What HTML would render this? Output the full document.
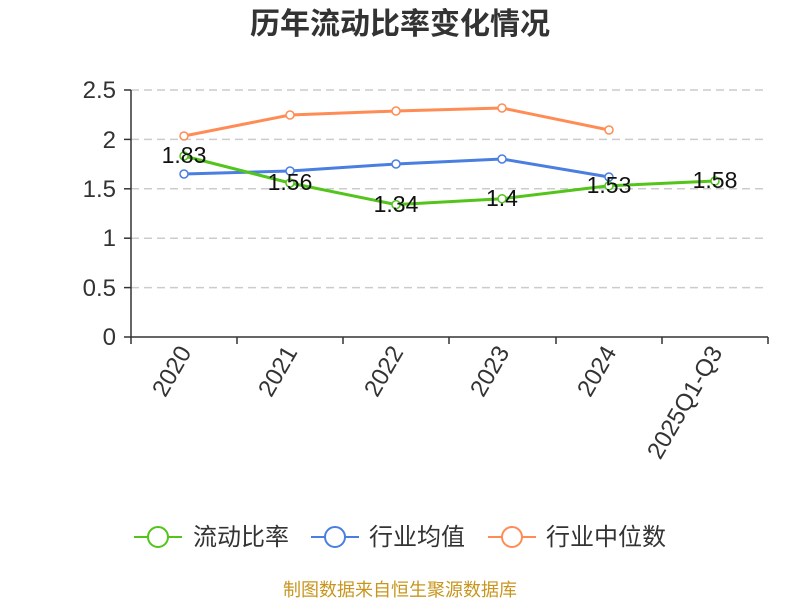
<!DOCTYPE html>
<html><head><meta charset="utf-8"><style>
body{margin:0;background:#fff;width:800px;height:600px;overflow:hidden}
text{font-family:"Liberation Sans","Noto Sans CJK SC",sans-serif}
</style></head><body>
<svg width="800" height="600" xmlns="http://www.w3.org/2000/svg">
<text x="400" y="34" text-anchor="middle" font-size="30" font-weight="bold" fill="#333">历年流动比率变化情况</text>
<g stroke="#ccc" stroke-dasharray="8,5" stroke-width="1.5">
<line x1="131" x2="768" y1="90" y2="90"/><line x1="131" x2="768" y1="139.4" y2="139.4"/>
<line x1="131" x2="768" y1="188.8" y2="188.8"/><line x1="131" x2="768" y1="238.2" y2="238.2"/>
<line x1="131" x2="768" y1="287.6" y2="287.6"/></g>
<g stroke="#333" stroke-width="1.5">
<line x1="131" y1="90" x2="131" y2="337"/><line x1="131" y1="337" x2="768" y2="337"/>
<line x1="124" x2="131" y1="90" y2="90"/><line x1="124" x2="131" y1="139.4" y2="139.4"/><line x1="124" x2="131" y1="188.8" y2="188.8"/><line x1="124" x2="131" y1="238.2" y2="238.2"/><line x1="124" x2="131" y1="287.6" y2="287.6"/><line x1="124" x2="131" y1="337" y2="337"/>
<line x1="131" x2="131" y1="337" y2="344"/><line x1="237" x2="237" y1="337" y2="344"/><line x1="343" x2="343" y1="337" y2="344"/><line x1="449" x2="449" y1="337" y2="344"/><line x1="556" x2="556" y1="337" y2="344"/><line x1="662" x2="662" y1="337" y2="344"/><line x1="768" x2="768" y1="337" y2="344"/>
</g>
<g font-size="24" fill="#333" text-anchor="end">
<text x="116" y="98">2.5</text><text x="116" y="148">2</text><text x="116" y="197">1.5</text><text x="116" y="246">1</text><text x="116" y="296">0.5</text><text x="116" y="345">0</text></g>
<g font-size="24" fill="#333" text-anchor="end">
<text transform="translate(192,352) rotate(-60)">2020</text>
<text transform="translate(298,352) rotate(-60)">2021</text>
<text transform="translate(404,352) rotate(-60)">2022</text>
<text transform="translate(510,352) rotate(-60)">2023</text>
<text transform="translate(617,352) rotate(-60)">2024</text>
<text transform="translate(723,352) rotate(-60)">2025Q1-Q3</text></g>
<g fill="#fff" stroke-width="3">
<polyline fill="none" stroke="#ff8c55" points="184,136 290,115 396,111 502,108 609,130"/>
<g stroke="#ff8c55" stroke-width="1.5"><circle cx="184" cy="136" r="4"/><circle cx="290" cy="115" r="4"/><circle cx="396" cy="111" r="4"/><circle cx="502" cy="108" r="4"/><circle cx="609" cy="130" r="4"/></g>
<polyline fill="none" stroke="#4a7ee0" points="184,174 290,171 396,164 502,159 609,177"/>
<g stroke="#4a7ee0" stroke-width="1.5"><circle cx="184" cy="174" r="4"/><circle cx="290" cy="171" r="4"/><circle cx="396" cy="164" r="4"/><circle cx="502" cy="159" r="4"/><circle cx="609" cy="177" r="4"/></g>
<polyline fill="none" stroke="#52c41a" points="184,156 290,183 396,204.6 502,198.7 609,185.8 715,181"/>
<g stroke="#52c41a" stroke-width="1.5"><circle cx="184" cy="156" r="4"/><circle cx="290" cy="183" r="4"/><circle cx="396" cy="204.6" r="4"/><circle cx="502" cy="198.7" r="4"/><circle cx="609" cy="185.8" r="4"/><circle cx="715" cy="181" r="4"/></g>
</g>
<g font-size="23" fill="#111" text-anchor="middle">
<text x="184" y="163">1.83</text><text x="290" y="190">1.56</text><text x="396" y="212">1.34</text><text x="502" y="206">1.4</text><text x="609" y="193">1.53</text><text x="715" y="188">1.58</text></g>
<g stroke-width="2" fill="#fff">
<line x1="134" x2="182" y1="537" y2="537" stroke="#52c41a"/><circle cx="158" cy="537" r="10" stroke="#52c41a"/>
<line x1="311" x2="359" y1="537" y2="537" stroke="#4a7ee0"/><circle cx="335" cy="537" r="10" stroke="#4a7ee0"/>
<line x1="488" x2="536" y1="537" y2="537" stroke="#ff8c55"/><circle cx="512" cy="537" r="10" stroke="#ff8c55"/></g>
<g font-size="24" fill="#333"><text x="193" y="545">流动比率</text><text x="369" y="545">行业均值</text><text x="546" y="545">行业中位数</text></g>
<text x="400" y="596" text-anchor="middle" font-size="18" fill="#c8961e">制图数据来自恒生聚源数据库</text>
</svg></body></html>
